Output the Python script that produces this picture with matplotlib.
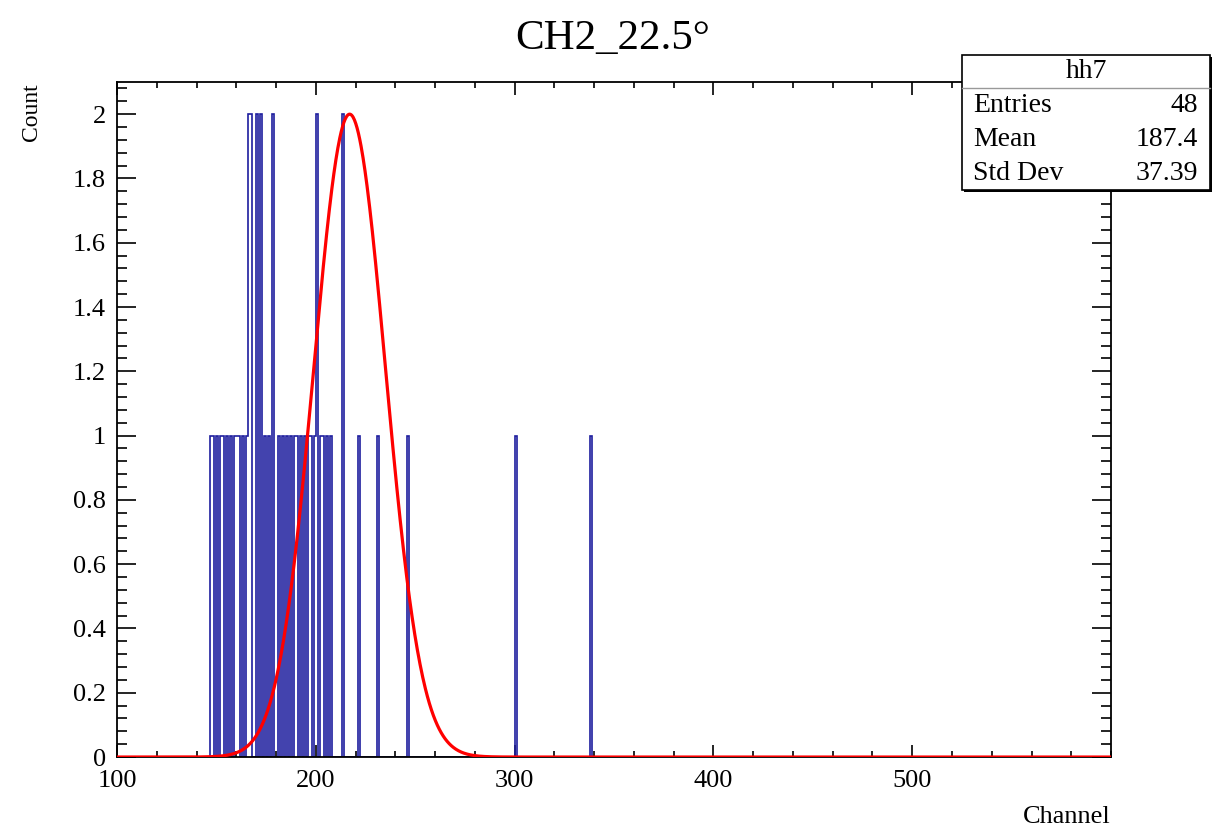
import numpy as np
import matplotlib
matplotlib.use('Agg')
import matplotlib.pyplot as plt
from matplotlib.patches import Rectangle
from matplotlib.ticker import MultipleLocator

# channels hit once
ch_single = [147, 148, 150, 152, 153, 155, 157, 159, 160, 161, 163, 165,
             174, 176, 181, 183, 185, 187, 189, 190, 192, 194, 196, 197,
             199, 202, 203, 205, 207,
             221, 231, 246, 300, 338]
# channels hit twice
ch_double = [166, 167, 170, 172, 178, 200, 213]

# gaussian fit parameters
fit_amp = 2.0
fit_mean = 217.0
fit_sigma = 18.0

# stats box
stats_name = "hh7"
stats_rows = [("Entries", "48"), ("Mean", "187.4"), ("Std Dev", "37.39")]

serif = ['Liberation Serif', 'DejaVu Serif']
plt.rcParams['font.family'] = serif

entries = np.array(ch_single + ch_double * 2)

fig = plt.figure(figsize=(12.14, 8.32), dpi=100)
ax = fig.add_axes([0.0964, 0.0901, 0.8188, 0.8113])

ax.hist(entries, bins=np.arange(100, 601, 1), histtype='step',
        color='#1e1e9e', lw=1.2)

xf = np.linspace(100, 600, 1500)
ax.plot(xf, fit_amp * np.exp(-0.5 * ((xf - fit_mean) / fit_sigma) ** 2),
        color='red', lw=2.3, zorder=3)

ax.set_xlim(100, 600)
ax.set_ylim(0, 2.1)
ax.xaxis.set_minor_locator(MultipleLocator(20))
ax.yaxis.set_minor_locator(MultipleLocator(0.04))
ax.set_xticks([100, 200, 300, 400, 500])
ax.set_xticklabels(['100', '200', '300', '400', '500'])
ax.set_yticks(np.arange(0, 2.01, 0.2))
ax.set_yticklabels(['0', '0.2', '0.4', '0.6', '0.8', '1', '1.2', '1.4', '1.6', '1.8', '2'])

ax.tick_params(axis='both', which='both', direction='in', top=True, right=True,
               width=1.2, labelsize=19)
ax.tick_params(axis='x', which='major', length=9, pad=9)
ax.tick_params(axis='x', which='minor', length=4.5)
ax.tick_params(axis='y', which='major', length=14, pad=8)
ax.tick_params(axis='y', which='minor', length=7)
for s in ax.spines.values():
    s.set_linewidth(1.3)

fig.text(0.505, 0.953, "CH2_22.5°", ha='center', va='center', fontsize=31)
fig.text(0.026, 0.90, "Count", rotation=90, ha='center', va='top', fontsize=17)
fig.text(0.915, 0.018, "Channel", ha='right', va='center', fontsize=19)

# stats box with shadow
bx0, by0, bw, bh = 962 / 1214, 1 - 190 / 832, 248 / 1214, 135 / 832
fig.patches.append(Rectangle((bx0 + 0.002, by0 - 0.003), bw, bh, transform=fig.transFigure,
                             facecolor='black', edgecolor='none', zorder=5))
fig.patches.append(Rectangle((bx0, by0), bw, bh, transform=fig.transFigure,
                             facecolor='white', edgecolor='black', lw=1.2, zorder=6))
line_y = 1 - 88 / 832
fig.add_artist(plt.Line2D([bx0, bx0 + bw], [line_y, line_y], transform=fig.transFigure,
                          color='#999999', lw=1.0, zorder=7))
fig.text(bx0 + bw / 2, 1 - 71 / 832, stats_name, ha='center', va='center',
         fontsize=20, zorder=8)
for i, (k, v) in enumerate(stats_rows):
    yy = 1 - (106 + 34 * i) / 832
    fig.text(973 / 1214, yy, k, ha='left', va='center', fontsize=20, zorder=8)
    fig.text(1198 / 1214, yy, v, ha='right', va='center', fontsize=20, zorder=8)

fig.savefig('out.png', dpi=100)
